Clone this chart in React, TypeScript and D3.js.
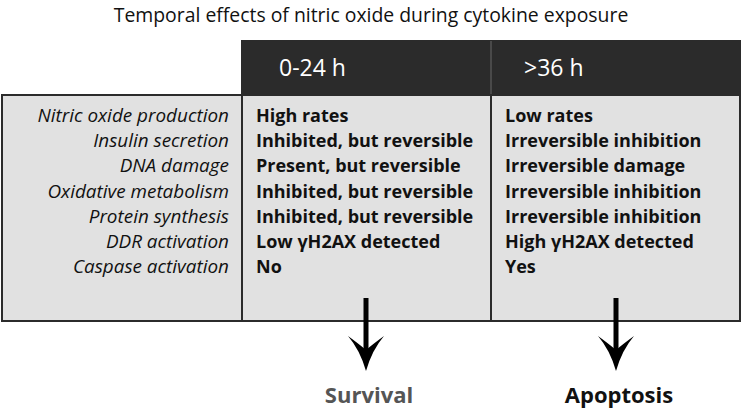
import React from 'react';
import * as d3 from 'd3';

const title = 'Temporal effects of nitric oxide during cytokine exposure';
const columns = ['0-24 h', '>36 h'];
const rowLabels = [
  'Nitric oxide production',
  'Insulin secretion',
  'DNA damage',
  'Oxidative metabolism',
  'Protein synthesis',
  'DDR activation',
  'Caspase activation',
];
const earlyValues = [
  'High rates',
  'Inhibited, but reversible',
  'Present, but reversible',
  'Inhibited, but reversible',
  'Inhibited, but reversible',
  'Low γH2AX detected',
  'No',
];
const lateValues = [
  'Low rates',
  'Irreversible inhibition',
  'Irreversible damage',
  'Irreversible inhibition',
  'Irreversible inhibition',
  'High γH2AX detected',
  'Yes',
];
const outcomes = ['Survival', 'Apoptosis'];

const colors = {
  border: '#2b2b2b',
  body: '#e1e1e1',
  header: '#2b2b2b',
  headerText: '#ffffff',
  text: '#111111',
  survival: '#555555',
  apoptosis: '#111111',
};

const font = '"Open Sans", Lato, sans-serif';

const App = () => {
  const width = 742;
  const height = 410;

  const tableLeft = 2;
  const tableRight = 740;
  const headerTop = 41;
  const bodyTop = 95;
  const bodyBottom = 321;
  const colEdges = [242, 491, tableRight];

  // rows placed with a point scale
  const y = d3.scalePoint<string>().domain(rowLabels).range([116, 267]);
  const colX = d3.scaleBand<string>().domain(columns).range([colEdges[0], colEdges[2]]);

  const arrowXs = [366, 616];
  const arrowPath = (x: number) => {
    const p = d3.path();
    p.moveTo(x - 18, 336);
    p.quadraticCurveTo(x - 6, 350, x, 371);
    p.quadraticCurveTo(x + 6, 350, x + 18, 336);
    p.quadraticCurveTo(x + 7, 344, x, 350);
    p.quadraticCurveTo(x - 7, 344, x - 18, 336);
    p.closePath();
    return p.toString();
  };

  return (
    <svg width={width} height={height} style={{ display: 'block', position: 'absolute', left: 0, top: 0 }}>
      <rect width={width} height={height} fill="#ffffff" />
      <text x={371} y={22} textAnchor="middle" fontFamily={font} fontSize={19.4} fill={colors.text}>
        {title}
      </text>

      {/* header */}
      {columns.map((c, i) => (
        <g key={c}>
          <rect
            x={colX(c)}
            y={headerTop}
            width={colX.bandwidth()}
            height={bodyTop - headerTop}
            fill={colors.header}
            stroke={colors.border}
            strokeWidth={2}
          />
          <text
            x={(colX(c) ?? 0) + (i === 0 ? 37 : 33)}
            y={76}
            fontFamily={font}
            fontSize={23}
            fill={colors.headerText}
          >
            {c}
          </text>
        </g>
      ))}
      <line x1={colEdges[1]} x2={colEdges[1]} y1={headerTop} y2={bodyTop} stroke="#555" strokeWidth={1.5} />

      {/* body */}
      <rect
        x={tableLeft}
        y={bodyTop}
        width={tableRight - tableLeft}
        height={bodyBottom - bodyTop}
        fill={colors.body}
        stroke={colors.border}
        strokeWidth={2}
      />
      {colEdges.slice(0, 2).map((x) => (
        <line key={x} x1={x} x2={x} y1={bodyTop} y2={bodyBottom} stroke={colors.border} strokeWidth={2} />
      ))}

      {rowLabels.map((r, i) => (
        <g key={r}>
          <text
            x={229}
            y={(y(r) ?? 0) + 6}
            textAnchor="end"
            fontFamily={font}
            fontStyle="italic"
            fontSize={18.9}
            fill={colors.text}
          >
            {r}
          </text>
          <text x={256} y={(y(r) ?? 0) + 6} fontFamily={font} fontWeight="bold" fontSize={18} fill={colors.text}>
            {earlyValues[i]}
          </text>
          <text x={505} y={(y(r) ?? 0) + 6} fontFamily={font} fontWeight="bold" fontSize={18} fill={colors.text}>
            {lateValues[i]}
          </text>
        </g>
      ))}

      {/* arrows and outcomes */}
      {outcomes.map((o, i) => (
        <g key={o}>
          <line x1={arrowXs[i]} x2={arrowXs[i]} y1={298} y2={350} stroke="#000" strokeWidth={5} />
          <path d={arrowPath(arrowXs[i])} fill="#000" />
          <text
            x={arrowXs[i] + 3}
            y={403}
            textAnchor="middle"
            fontFamily={font}
            fontWeight="bold"
            fontSize={22}
            fill={i === 0 ? colors.survival : colors.apoptosis}
          >
            {o}
          </text>
        </g>
      ))}
    </svg>
  );
};

export default App;
